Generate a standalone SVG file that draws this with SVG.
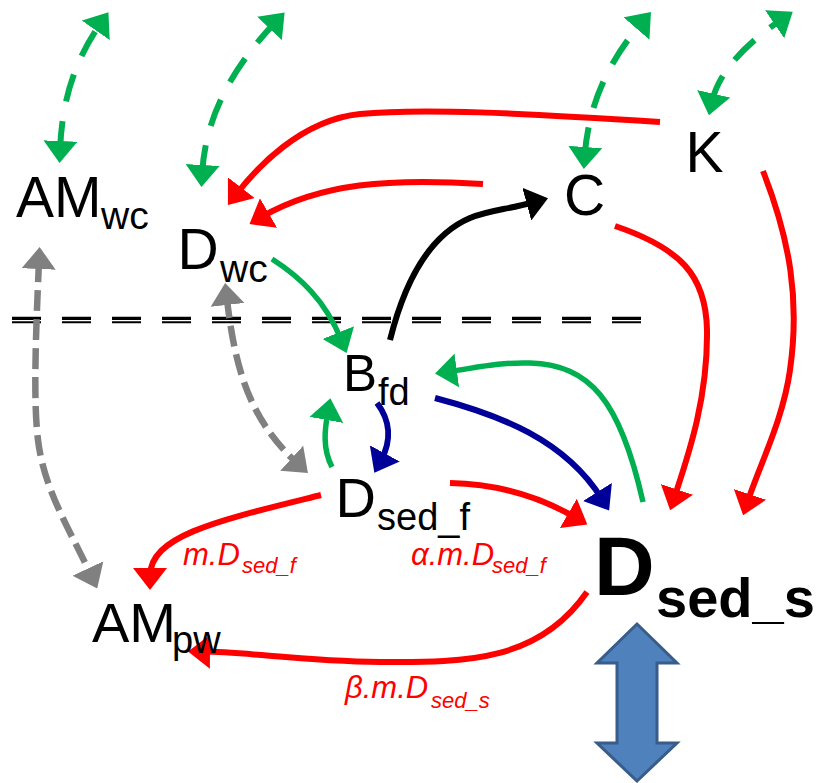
<svg xmlns="http://www.w3.org/2000/svg" width="820" height="783" viewBox="0 0 820 783">
<style>
  text { font-family: "Liberation Sans", Arial, sans-serif; fill: #000; }
  .node { font-size: 57px; }
  .sub { font-size: 39px; }
  .bold { font-weight: bold; }
  .lbl { font-style: italic; font-size: 31px; fill: #FF0000; }
  .lsub { font-size: 22px; }
  .c { fill: none; stroke-linecap: butt; }
  .red { stroke: #FF0000; stroke-width: 6; marker-end: url(#mRed); }
  .grn { stroke: #00B050; stroke-width: 5.5; marker-end: url(#mGreen); }
  .grnd { stroke: #00B050; stroke-width: 6; stroke-dasharray: 28 20; marker-start: url(#mGreen2); marker-end: url(#mGreen2); }
  .gry { stroke: #808080; stroke-width: 6.5; stroke-dasharray: 21 8; marker-start: url(#mGray); marker-end: url(#mGray); }
  .blu { stroke: #000099; stroke-width: 6; marker-end: url(#mBlue); }
  .blk { stroke: #000000; stroke-width: 6; marker-end: url(#mBlack); }
</style>
<defs>
  <marker id="mRed" viewBox="0 0 22 34" refX="8" refY="17" markerWidth="22" markerHeight="34" markerUnits="userSpaceOnUse" orient="auto"><path d="M0,0 L22,17 L0,34 z" fill="#FF0000"/></marker>
  <marker id="mGreen" viewBox="0 0 22 34" refX="8" refY="17" markerWidth="22" markerHeight="34" markerUnits="userSpaceOnUse" orient="auto"><path d="M0,0 L22,17 L0,34 z" fill="#00B050"/></marker>
  <marker id="mGreen2" viewBox="0 0 22 34" refX="8" refY="17" markerWidth="22" markerHeight="34" markerUnits="userSpaceOnUse" orient="auto-start-reverse"><path d="M0,0 L22,17 L0,34 z" fill="#00B050"/></marker>
  <marker id="mGray" viewBox="0 0 22 34" refX="8" refY="17" markerWidth="22" markerHeight="34" markerUnits="userSpaceOnUse" orient="auto-start-reverse"><path d="M0,0 L22,17 L0,34 z" fill="#808080"/></marker>
  <marker id="mBlue" viewBox="0 0 22 34" refX="8" refY="17" markerWidth="22" markerHeight="34" markerUnits="userSpaceOnUse" orient="auto"><path d="M0,0 L22,17 L0,34 z" fill="#000099"/></marker>
  <marker id="mBlack" viewBox="0 0 22 34" refX="8" refY="17" markerWidth="22" markerHeight="34" markerUnits="userSpaceOnUse" orient="auto"><path d="M0,0 L22,17 L0,34 z" fill="#000000"/></marker>
</defs>
<rect width="820" height="783" fill="#FFFFFF"/>

<g id="interface">
  <line x1="12" y1="318.3" x2="642" y2="318.3" stroke="#000" stroke-width="3.3" stroke-dasharray="29 21"/>
  <line x1="12" y1="322.3" x2="642" y2="322.3" stroke="#000" stroke-width="2" stroke-dasharray="29 21"/>
</g>

<g id="connectors">
  <path class="c grnd" d="M60.1,149 C62,100 75,60 100.4,23.8"/>
  <path class="c grnd" d="M202.2,173 C205,120 230,70 275,22.6"/>
  <path class="c grnd" d="M584.8,155 C588,110 605,65 641.8,22.5"/>
  <path class="c grnd" d="M712,101.6 C718,75 740,48 781.2,19.7"/>
  <path class="c red" d="M660,122 C520,113 420,108 360,114 C300,120 255,170 236.5,194"/>
  <path class="c red" d="M483,184 C390,178 320,183 261.6,217"/>
  <path class="c red" d="M615,226 C680,248 706,275 707,330 C708,400 687,459 674.5,497"/>
  <path class="c red" d="M763,171 C790,240 800,300 790,370 C783,420 760,464 747.5,502"/>
  <path class="c blk" d="M390,340 C405,280 430,235 470,218 C490,210 505,210 534.5,202"/>
  <path class="c grn" d="M272,259 C300,277 325,300 341.3,340"/>
  <path class="c gry" d="M39,261 C36,330 33,400 38,440 C44,490 70,530 91.3,575.7"/>
  <path class="c gry" d="M226.7,297 C235,370 250,420 297.6,463.6"/>
  <path class="c grn" d="M332,467 C322,448 325,428 327.9,412"/>
  <path class="c blu" d="M377,403 C390,420 392,440 381,460.4"/>
  <path class="c blu" d="M435,398 C500,415 565,440 601.7,498.7"/>
  <path class="c grn" d="M643,502 C620,400 590,365 530,363 C500,362 475,368 448.9,371.6"/>
  <path class="c red" d="M450,483 C500,484 540,497 575.2,517.4"/>
  <path class="c red" d="M321,495 C220,520 150,535 150,576"/>
  <path class="c red" d="M587,592 C540,660 470,663 380,662 C300,661 250,652 202,651.6"/>
  <text class="lbl" x="183" y="565">m.D<tspan class="lsub" x="242" y="573">sed_f</tspan></text>
  <text class="lbl" x="411" y="565">α.m.D<tspan class="lsub" x="492" y="573">sed_f</tspan></text>
  <text class="lbl" x="345" y="698">β.m.D<tspan class="lsub" x="431" y="708">sed_s</tspan></text>
</g>

<g id="AM_wc"><text class="node" x="16" y="217" font-size="58">AM<tspan class="sub" x="101" y="229">wc</tspan></text></g>
<g id="D_wc"><text class="node" x="177.5" y="269">D<tspan class="sub" x="220" y="282">wc</tspan></text></g>
<g id="C"><text class="node" x="564" y="215">C</text></g>
<g id="K"><text class="node" x="685.5" y="172">K</text></g>
<g id="B_fd"><text class="node" x="343" y="391" style="font-size:51px">B<tspan class="sub" x="378" y="405" style="font-size:38px">fd</tspan></text></g>
<g id="D_sed_f"><text class="node" x="335.6" y="517" style="font-size:56px">D<tspan class="sub" x="377" y="530" style="font-size:38px">sed_f</tspan></text></g>
<g id="AM_pw"><text class="node" x="92" y="642" style="font-size:56px">AM<tspan class="sub" x="172" y="653" style="font-size:38px">pw</tspan></text></g>
<g id="D_sed_s"><text class="node bold" x="594" y="595" style="font-size:84px">D<tspan class="bold" x="656" y="617" style="font-size:56px">sed_s</tspan></text></g>
<g id="exchange">
  <polygon points="637,624 677,663 657,663 657,743 677,743 637,781 597,743 617,743 617,663 597,663" fill="#4F81BD" stroke="#385D8A" stroke-width="3" stroke-linejoin="miter"/>
</g>
</svg>
